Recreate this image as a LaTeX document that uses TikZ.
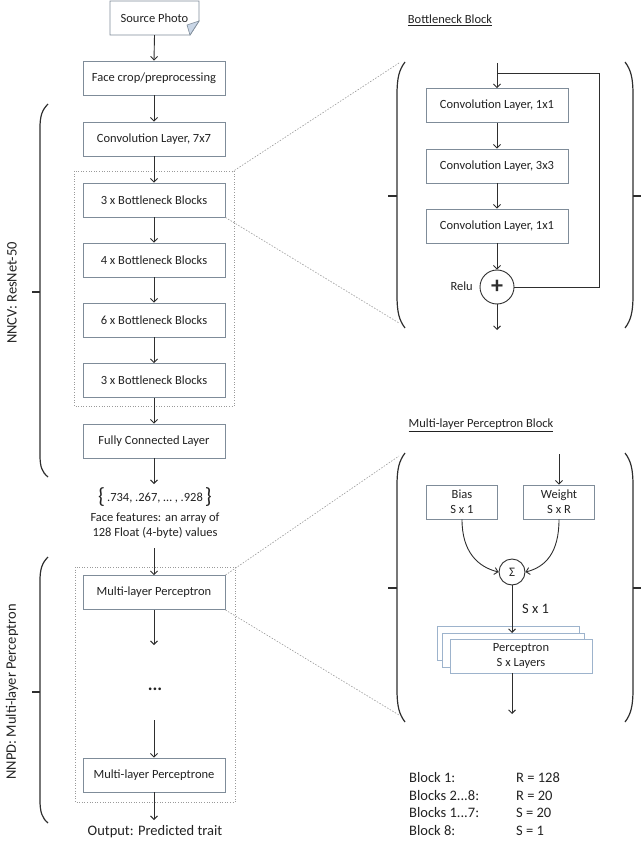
\documentclass[tikz,border=0pt]{standalone}
\usepackage{fontspec}
\setmainfont{Carlito}
\usetikzlibrary{arrows.meta}
\definecolor{boxc}{HTML}{7F8C99}
\definecolor{cardc}{HTML}{9DB3CC}
\definecolor{arrc}{HTML}{2E2E2E}
\definecolor{txt}{HTML}{222222}
\definecolor{dotc}{HTML}{9A9A9A}
\definecolor{foldc}{HTML}{C9D6E6}
\begin{document}
\begin{tikzpicture}[x=1pt,y=-1pt,
  box/.style={draw=boxc,line width=0.9pt,fill=white,minimum width=142pt,minimum height=34pt,inner sep=0pt,font=\fontsize{12.5}{15}\selectfont,text=txt,align=center},
  sbox/.style={box,minimum width=71pt},
  card/.style={box,draw=cardc},
  arr/.style={draw=arrc,line width=0.9pt,-{Straight Barb[length=3.5pt,width=7pt]}},
  ln/.style={draw=arrc,line width=0.9pt},
  brk/.style={draw=arrc,line width=1.2pt},
  frame/.style={draw=dotc,line width=0.6pt,dotted},
  zoomln/.style={draw=dotc,line width=0.6pt,dash pattern=on 1.5pt off 1.5pt},
  lbl/.style={font=\fontsize{12.5}{15}\selectfont,text=txt,inner sep=0pt,align=center},
  big/.style={font=\fontsize{14.5}{17.7}\selectfont,text=txt,inner sep=0pt},
]
\useasboundingbox (0,0) rectangle (640,842);

% ---------- left column ----------
\draw[draw=boxc,line width=0.9pt,fill=white] (110,1) -- (199,1) -- (199,21) -- (190,35) -- (110,35) -- cycle;
\filldraw[fill=foldc,draw=boxc,line width=0.6pt] (199,21) -- (190,35) -- (187,25) -- cycle;
\node[lbl,minimum width=89pt,minimum height=34pt] (src) at (154.5,18) {Source Photo};

\node[box] (face) at (154,78) {Face crop/preprocessing};
\node[box] (c7) at (154,139) {Convolution Layer, 7x7};
\draw[frame] (74,171) rectangle (234,406);
\coordinate (f1ne) at (232,172);
\node[box] (b3) at (154,200) {3 x Bottleneck Blocks};
\node[box] (b4) at (154,260) {4 x Bottleneck Blocks};
\node[box] (b6) at (154,320) {6 x Bottleneck Blocks};
\node[box] (b3b) at (154,380.5) {3 x Bottleneck Blocks};
\node[box] (fc) at (154,441) {Fully Connected Layer};

\draw[arr] (src.south) -- (face.north);
\draw[arr] (face) -- (c7);
\draw[arr] (c7) -- (b3);
\draw[arr] (b3) -- (b4);
\draw[arr] (b4) -- (b6);
\draw[arr] (b6) -- (b3b);
\draw[arr] (b3b) -- (fc);

\node[lbl] (arr) at (155,497) {{\fontsize{22}{22}\selectfont\raisebox{-1.5pt}{\{}}\,.734, .267, … , .928\,{\fontsize{22}{22}\selectfont\raisebox{-1.5pt}{\}}}};
\coordinate (arrin) at (154,484);
\draw[arr] (fc) -- (arrin);
\node[lbl] (feat) at (155,526) {Face features: an array of\\128 Float (4-byte) values};
\coordinate (featout) at (154,548);

\draw[frame] (75,567) rectangle (235,802);
\node[box] (m1) at (154,592.5) {Multi-layer Perceptron};
\node[box] (m2) at (154,775) {Multi-layer Perceptrone};
\node[lbl,font=\fontsize{18}{18}\selectfont\bfseries] (dots) at (155,689) {...};
\coordinate (m1out) at (154,645);
\coordinate (m2in) at (154,720);
\coordinate (outin) at (154,820);
\node[big] (out) at (155,832) {Output: Predicted trait};
\draw[arr] (featout) -- (m1);
\draw[arr] (m1) -- (m1out);
\draw[arr] (m2in) -- (m2);
\draw[arr] (m2) -- (outin);

% braces
\draw[brk] (48,104) .. controls (42,110) and (40,116) .. (40,128) -- (40,455) .. controls (40,467) and (42,472) .. (48,477);
\coordinate (t1a) at (32,292); \coordinate (t1b) at (40,292);
\draw[brk] (t1a) -- (t1b);
\node[big,rotate=90] (nncv) at (12,293) {NNCV: ResNet-50};

\draw[brk] (48,557) .. controls (42,563) and (40,569) .. (40,581) -- (40,800) .. controls (40,812) and (42,818) .. (48,823);
\coordinate (t2a) at (32,692); \coordinate (t2b) at (40,692);
\draw[brk] (t2a) -- (t2b);
\node[big,rotate=90] (nnpd) at (12,692) {NNPD: Multi-layer Perceptron};

% ---------- bottleneck block ----------
\node[lbl] (bbt) at (450,20) {\underline{Bottleneck Block}};
\draw[brk] (405,62) .. controls (399,70) and (397,78) .. (397,95) -- (397,295) .. controls (397,312) and (399,320) .. (405,328);
\draw[brk] (625,62) .. controls (631,70) and (633,78) .. (633,95) -- (633,295) .. controls (633,312) and (631,320) .. (625,328);
\coordinate (p1l) at (397,196); \coordinate (p1lt) at (388,196);
\coordinate (p1r) at (633,196); \coordinate (p1rt) at (641,196);
\draw[brk] (p1lt) -- (p1l);
\draw[brk] (p1r) -- (p1rt);
\coordinate (p1top) at (399,63);
\coordinate (p1bot) at (399,323);

\node[box] (k1) at (497,105.5) {Convolution Layer, 1x1};
\node[box] (k2) at (497,166) {Convolution Layer, 3x3};
\node[box] (k3) at (497,226) {Convolution Layer, 1x1};
\node[circle,draw=arrc,line width=0.9pt,minimum size=34pt,inner sep=0pt,font=\fontsize{24}{24}\selectfont\bfseries,text=arrc] (plus) at (497,287) {+};
\node[lbl,anchor=east] (relu) at (473,286) {Relu};
\coordinate (bin) at (497,63);
\coordinate (bsplit) at (497,73);
\coordinate (bskip) at (599,73);
\coordinate (bout) at (497,330);
\draw[arr] (bin) -- (k1);
\draw[ln] (bsplit) -- (bskip) |- (plus.east);
\draw[arr] (k1) -- (k2);
\draw[arr] (k2) -- (k3);
\draw[arr] (k3) -- (plus);
\draw[arr] (plus) -- (bout);

\draw[zoomln] (f1ne) -- (p1top);
\draw[zoomln] (b3.south east) -- (p1bot);

% ---------- MLP block ----------
\node[lbl] (mlpt) at (481,425) {\underline{Multi-layer Perceptron Block}};
\draw[brk] (405,453) .. controls (399,461) and (397,469) .. (397,486) -- (397,689) .. controls (397,706) and (399,714) .. (405,722);
\draw[brk] (625,453) .. controls (631,461) and (633,469) .. (633,486) -- (633,689) .. controls (633,706) and (631,714) .. (625,722);
\coordinate (p2l) at (397,588); \coordinate (p2lt) at (388,588);
\coordinate (p2r) at (633,588); \coordinate (p2rt) at (641,588);
\draw[brk] (p2lt) -- (p2l);
\draw[brk] (p2r) -- (p2rt);
\coordinate (p2top) at (399,456);
\coordinate (p2bot) at (399,715);

\node[sbox] (bias) at (462,502) {Bias\\S x 1};
\node[sbox] (wt) at (559,502) {Weight\\S x R};
\coordinate (win) at (559,454);
\draw[arr] (win) -- (wt);
\node[circle,draw=arrc,line width=0.9pt,minimum size=26pt,inner sep=0pt,font=\fontsize{13}{13}\selectfont,text=txt] (sig) at (512,572) {Σ};
\draw[arr] (bias.south) .. controls (462,552) and (478,567) .. (sig.west);
\draw[arr] (wt.south) .. controls (559,552) and (546,567) .. (sig.east);

\node[card] (pc1) at (508,643.5) {};
\node[card] (pc2) at (513.5,650) {};
\node[card] (pc3) at (521,656) {Perceptron\\S x Layers};
\coordinate (pin) at (512,633);
\coordinate (pout) at (512,673);
\coordinate (pend) at (512,714);
\draw[arr] (sig) -- (pin);
\node[big,anchor=west] (sx1) at (522,609) {S x 1};
\draw[arr] (pout) -- (pend);

\draw[zoomln] (m1.north east) -- (p2top);
\draw[zoomln] (m1.south east) -- (p2bot);

% ---------- parameters ----------
\node[big,anchor=west] (l1) at (409,778) {Block 1:};
\node[big,anchor=west] (l2) at (409,796) {Blocks 2...8:};
\node[big,anchor=west] (l3) at (409,813) {Blocks 1...7:};
\node[big,anchor=west] (l4) at (409,831) {Block 8:};
\node[big,anchor=west] (r1) at (516,778) {R = 128};
\node[big,anchor=west] (r2) at (516,796) {R = 20};
\node[big,anchor=west] (r3) at (516,813) {S = 20};
\node[big,anchor=west] (r4) at (516,831) {S = 1};
\end{tikzpicture}
\end{document}
